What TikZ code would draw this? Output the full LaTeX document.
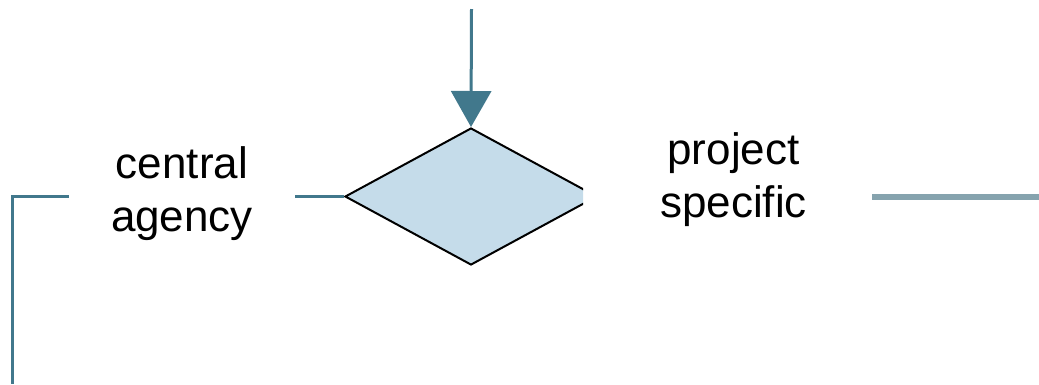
\documentclass[tikz,border=0pt]{standalone}
\usepackage{fontspec}
\setmainfont{Liberation Sans}
\usetikzlibrary{shapes.geometric,arrows.meta}
\definecolor{flowteal}{RGB}{65,120,140}
\definecolor{flowgrey}{RGB}{134,163,174}
\definecolor{decfill}{RGB}{197,220,234}

\begin{document}
\begin{tikzpicture}[x=1pt,y=-1pt,
    decision/.style={diamond, draw=black, line width=2pt, fill=decfill,
        minimum width=252pt, minimum height=137pt, inner sep=0pt},
    choicetext/.style={align=center, font=\fontsize{44}{53}\selectfont, inner ysep=0pt},
    flow/.style={draw=flowteal, line width=3pt}]
    \useasboundingbox (0,0) rectangle (1039,384);

    % decision diamond, right tip cut off
    \begin{scope}
        \clip (0,0) rectangle (583,384);
        \node[decision] (choice) at (471,196.5) {};
    \end{scope}

    % the two branches
    \node[choicetext, inner xsep=42pt] (central) at (182,194) {central\\agency};
    \node[choicetext, inner xsep=65pt] (project) at (733.5,180) {project\\specific};

    \coordinate (entry) at (471.5,9);
    \coordinate (leftend) at (12.5,384);
    \coordinate (rightend) at (1039,197);

    \draw[flow, -{Triangle[length=36pt,width=40pt]}] (entry) -- (choice.north);
    \draw[flow] (choice.west) -- (choice.west -| central.east);
    \draw[flow] (choice.west -| central.west) -| (leftend);
    \draw[draw=flowgrey, line width=6pt] (project.east |- rightend) -- (rightend);
\end{tikzpicture}
\end{document}
